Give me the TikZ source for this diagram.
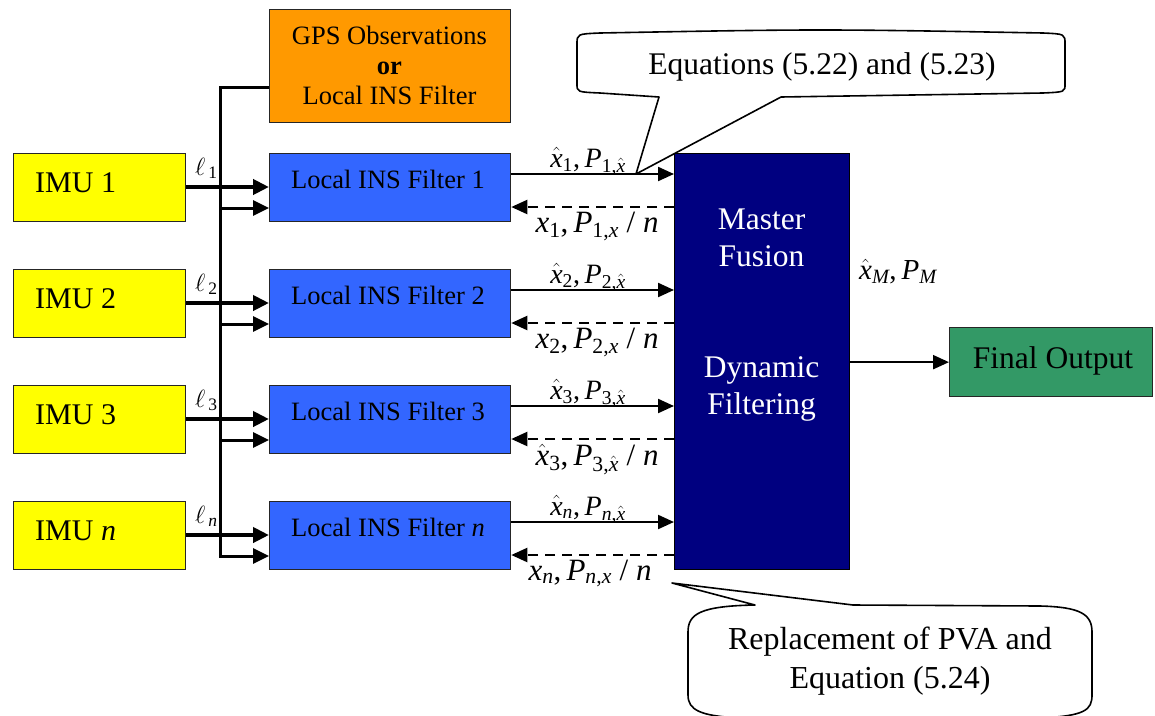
\documentclass[tikz,border=0pt]{standalone}
\usepackage{amsmath}
\usepackage{fontspec}
\setmainfont{Liberation Serif}
\usetikzlibrary{arrows.meta}

\definecolor{imuyellow}{HTML}{FFFF00}
\definecolor{gpsorange}{HTML}{FF9900}
\definecolor{filterblue}{HTML}{3366FF}
\definecolor{masternavy}{HTML}{000080}
\definecolor{outgreen}{HTML}{339966}

% italic and upright pieces of the formulas, set in the text font
\newcommand\mv[1]{\text{\itshape #1}}
\newcommand\mt[1]{\text{#1}}
\newcommand\xh{\hat{\mv{x}}}

\begin{document}
\begin{tikzpicture}[x=1pt,y=-1pt,
  box/.style={draw=black!85, line width=1.3pt, inner sep=0pt, anchor=north west},
  imubox/.style={box, fill=imuyellow, minimum width=172pt, minimum height=68pt},
  filterbox/.style={box, fill=filterblue, minimum width=241pt, minimum height=68pt},
  gpsbox/.style={box, fill=gpsorange, minimum width=241pt, minimum height=113pt},
  masterbox/.style={box, draw=black, fill=masternavy, minimum width=175pt, minimum height=416pt},
  finalbox/.style={box, fill=outgreen, minimum width=203pt, minimum height=69pt},
  txt/.style={inner sep=0pt},
  imutext/.style={txt, font=\fontsize{30}{36}\selectfont},
  filtertext/.style={txt, font=\fontsize{26.5}{30}\selectfont},
  bigtext/.style={txt, font=\fontsize{31.5}{37}\selectfont, align=center},
  uplbl/.style={txt, font=\fontsize{28}{30}\selectfont},
  dnlbl/.style={txt, font=\fontsize{31}{34}\selectfont},
  outlbl/.style={txt, font=\fontsize{29}{32}\selectfont},
  elllbl/.style={txt, font=\fontsize{25}{28}\selectfont},
  inarrow/.style={line width=4pt, -{Triangle[length=16pt,width=15pt]}},
  busarrow/.style={line width=3pt, -{Triangle[length=16pt,width=15pt]}},
  outarrow/.style={line width=2.2pt, -{Triangle[length=16pt,width=14pt]}},
  backarrow/.style={line width=2.2pt, dash pattern=on 10pt off 7pt, -{Triangle[length=16pt,width=14pt]}},
  callout/.style={draw=black, fill=white, line width=1.6pt, line join=round}
]
\useasboundingbox (0,0) rectangle (1155,715);

% source of the shared observations
\node[gpsbox] (gps) at (269,9) {};
\node[filtertext, align=center] (gpstxt) at (389.5,65)
  {GPS Observations\\\textbf{or}\\Local INS Filter};

% master filter and final output
\node[masterbox] (master) at (674,153) {};
\node[bigtext, text=white] (mastertxt) at (761.5,237.5) {Master\\Fusion};
\node[bigtext, text=white] (dyntxt) at (761.5,389) {Dynamic\\Filtering};
\node[finalbox] (final) at (949,327) {};
\node[bigtext, anchor=base] (finaltxt) at (1053,368) {Final Output};
\node[outlbl, anchor=base west] (mlbl) at (859,279) {$\xh_{\mv{M}}\mt{,\,}\mv{P}_{\mv{M}}$};

% one row per IMU: sensor, local filter and their labels
\foreach \i/\y/\t/\m in {1/153/1/\mt{1}, 2/269/2/\mt{2}, 3/385/3/\mt{3}, 4/501/\textit{n}/\mv{n}} {
  \node[imubox] (imu\i) at (13,\y) {};
  \node[imutext, anchor=base west] (imutxt\i) at (35,\y+39) {IMU \t};
  \node[filterbox] (f\i) at (269,\y) {};
  \node[filtertext, anchor=base] (ftxt\i) at (388,\y+35) {Local INS Filter \t};
  \node[elllbl, anchor=base west] (ell\i) at (195,\y+22) {$\ell_{\,\m}$};
  \node[uplbl, anchor=base] (up\i) at (588,\y+14) {$\xh_{\m}\mt{,\,}\mv{P}_{\m\mt{,}\xh}$};
}
\node[dnlbl, anchor=base] (dn1) at (597,232) {$\mv{x}_{\mt{1}}\mt{,\,}\mv{P}_{\mt{1,}\mv{x}}\mt{ / }\mv{n}$};
\node[dnlbl, anchor=base] (dn2) at (597,348) {$\mv{x}_{\mt{2}}\mt{,\,}\mv{P}_{\mt{2,}\mv{x}}\mt{ / }\mv{n}$};
\node[dnlbl, anchor=base] (dn3) at (597,465) {$\xh_{\mt{3}}\mt{,\,}\mv{P}_{\mt{3,}\xh}\mt{ / }\mv{n}$};
\node[dnlbl, anchor=base] (dn4) at (590,580) {$\mv{x}_{\mv{n}}\mt{,\,}\mv{P}_{\mv{n}\mt{,}\mv{x}}\mt{ / }\mv{n}$};

% shared bus from the observation source to every local filter
\coordinate (bus) at (220,0);
\draw[busarrow] ([yshift=-78pt]gps.north west) -| ([yshift=-55pt]f4.north west -| bus)
  -- ([yshift=-55pt]f4.north west);
\foreach \i in {1,2,3}
  \draw[busarrow] ([yshift=-55pt]f\i.north west -| bus) -- ([yshift=-55pt]f\i.north west);

% IMU data into the local filters, estimates to and from the master
\foreach \i in {1,2,3,4} {
  \draw[inarrow] ([yshift=-34pt]imu\i.north east) -- ([yshift=-34pt]imu\i.north east -| f\i.west);
  \draw[outarrow] ([yshift=-21pt]f\i.north east) -- ([yshift=-21pt]f\i.north east -| master.west);
  \draw[backarrow] ([yshift=-54pt]f\i.north east -| master.west) -- ([yshift=-54pt]f\i.north east);
}
\draw[outarrow] (master.east |- final.west) -- (final.west);

% callouts
\draw[callout] (600,33) .. controls (820,29) .. (1043,33)
  .. controls (1065,34) .. (1065,44) -- (1065,84)
  .. controls (1065,92) .. (1043,93) -- (781,97) -- (636,174) -- (659,97)
  -- (600,93) .. controls (577,92) .. (577,84) -- (577,44)
  .. controls (577,34) .. (600,33) -- cycle;
\node[bigtext, anchor=base] (eqtxt) at (822,74) {Equations (5.22) and (5.23)};

\draw[callout] (672,583) -- (755,605) .. controls (700,606) and (688,614) .. (688,632)
  -- (688,695) .. controls (688,710) and (700,716) .. (740,718) -- (1040,718)
  .. controls (1085,716) and (1092,710) .. (1092,695) -- (1092,632)
  .. controls (1092,614) and (1080,607) .. (1040,606) -- (853,605) -- cycle;
\node[txt, font=\fontsize{32}{39}\selectfont, align=center] (repltxt) at (890,661)
  {Replacement of PVA and\\Equation (5.24)};
\end{tikzpicture}
\end{document}
